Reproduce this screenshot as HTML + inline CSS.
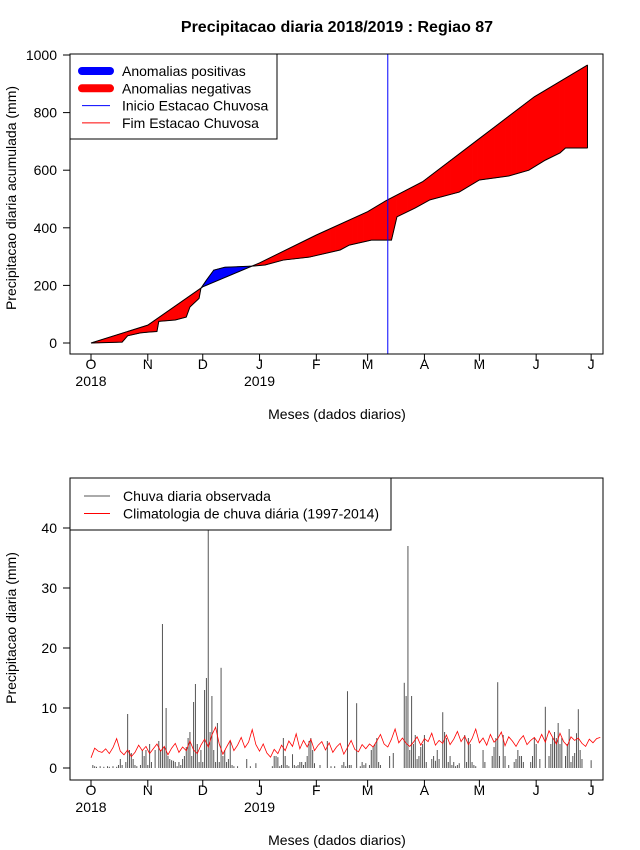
<!DOCTYPE html>
<html><head><meta charset="utf-8"><style>
body{margin:0;background:#fff}
svg{display:block;font-family:"Liberation Sans",sans-serif}
</style></head><body>
<svg id="c" width="640" height="850" viewBox="0 0 640 850" xmlns="http://www.w3.org/2000/svg">
<rect width="640" height="850" fill="#fff"/>
<text x="337" y="32" text-anchor="middle" font-size="16" font-weight="bold">Precipitacao diaria 2018/2019 : Regiao 87</text>
<g id="top"></g>
<g id="bot"></g>
</svg>
<script>
// ---- Top chart data (cumulative, mm) ----
const climDays = [0,31,61,92,123,151,161,181,211,242,271];
const climCum  = [0,62,195,278,375,456,494,560,705,855,965];
const obsDays  = [0,17,20,27,32,36,37,46,52,54,59,60,63,67,73,88,95,105,119,136,141,153,164,167,177,185,201,212,228,239,248,256,259,271];
const obsCum   = [0,3,25,35,38,40,75,80,90,125,155,190,218,253,263,267,271,288,298,323,340,357,357,438,469,497,524,566,580,600,635,660,677,677];
const topYTicks = [0,200,400,600,800,1000];
const monthLabels = ["O","N","D","J","F","M","A","M","J","J"];
const monthDays = [0,31,61,92,123,151,182,212,243,273];
const seasonStartDay = 162;
// ---- Bottom chart data (daily, mm) ----
const rainDaily = [
0,0.5,0.3,0.2,0,0.3,0,0.2,0,0.3,0.2,0,0.3,0,0.2,0.5,1.5,0.5,0,1,9,3,2.5,1.5,0.5,0.3,0,0.5,3,2,3,
0.5,4,1,0,3,0,4.5,3,24,3.5,10,2,1.5,1.3,1.2,1,0.3,1,0.5,1.5,2,3.5,5,6,2,11,14,4,1,3,
1,13,15,40,6,12,3,1,7.5,1,16.7,2,3,1,1.5,4.5,0.5,0.3,0,0.3,0,0,0,0,1.5,0,0.3,0,0,0.8,0,
0,0,0,0,0,0,0,0.3,2,2,1.8,0.3,0.5,5,2,0.5,0.3,0,2.3,0.5,0.3,0.5,1,1,0.5,1,2,4.5,5,3,0.8,
0,0,0.5,0,0,0,4.5,0,0.3,0,0.3,0,0,0,0.5,1,0.3,12.8,0.5,0.5,0,0,10.8,0,0.3,1,0.5,0.8,
0,0.5,3,3.5,4,5,1,0.5,0,0,0,0,2,0,2.5,0,0,0,0,0,14.2,12,37,3,12,4,5.5,1.5,2,3.5,4,
5.5,1,0,0,1.5,2,1.2,3,1.5,0,9.3,6,5,1,2,0.5,1,0.3,0.5,0.8,0,0,5.5,1,5,4,1,0.5,0.3,0,
0,0,3,1,0,0,0,2,3.5,5,14.3,2,0,5.5,2,0,0.5,0,0,1,1.5,3,2,2,1,0,0,0,1,2,5,
4,0,1.5,0,0,10.2,0,2,4,5,6,5,7.5,4,5,0,2,4,6.5,1,2,2.5,5.8,9.8,3,1.5,0,0,0,0,
1.3];
const climDaily2 = [
1.7,3.3,2.8,2.6,3.2,2.4,3.4,4.9,2.8,2.2,3.0,1.9,2.6,3.8,2.9,3.6,
2.4,3.2,4.0,2.8,3.6,2.2,3.3,4.1,2.6,3.5,2.9,4.5,3.0,2.4,3.8,
4.8,3.5,5.5,6.8,4.0,2.3,3.5,4.6,2.9,3.8,5.1,3.4,4.3,6.4,3.9,
2.8,4.0,2.5,1.8,3.1,2.4,3.8,2.9,4.5,3.6,5.7,3.2,4.6,3.5,4.8,2.9,
3.8,4.4,3.0,4.2,2.6,3.5,4.1,2.3,3.4,4.6,3.1,2.7,3.9,3.2,
4.0,3.5,4.5,5.6,4.0,3.5,4.8,6.5,4.2,5.0,4.1,3.6,4.3,5.2,3.8,4.9,
4.4,5.8,3.8,4.6,4.1,5.5,3.9,4.8,6.1,4.4,5.3,3.9,4.9,6.5,4.2,
5.0,3.8,5.6,4.3,4.9,6.0,3.7,5.2,4.5,3.6,4.7,5.4,3.9,4.6,5.1,4.2,
5.6,4.3,6.2,5.1,4.0,5.8,4.4,3.7,5.2,4.6,5.0,4.1,3.6,4.8,4.2,4.9,5.1];
const botYTicks = [0,10,20,30,40];

const NS="http://www.w3.org/2000/svg";
function mk(p,tag,at){const e=document.createElementNS(NS,tag);for(const k in at)e.setAttribute(k,at[k]);p.appendChild(e);return e;}
const xd = d => 91 + d*1.832;
const yTop = v => 343 - v*0.288;
const yBot = v => 768 - v*6;
function interp(ds,vs,d){for(let i=1;i<ds.length;i++){if(d<=ds[i]){const t=(d-ds[i-1])/(ds[i]-ds[i-1]);return vs[i-1]+t*(vs[i]-vs[i-1]);}}return vs[vs.length-1];}

function axes(g,top,bot,yf,ticks,label,lx,ly){
  const box=mk(g,'rect',{x:70,y:top,width:533,height:bot-top,fill:'none',stroke:'#000','stroke-width':1});
  
  
  ticks.forEach(t=>{
    const y=yf(t);
    const tl=mk(g,'line',{x1:63,x2:70,y1:y,y2:y,stroke:'#000'});
    
    
    const tx=mk(g,'text',{x:57,y:y+5,'text-anchor':'end','font-size':14});
    tx.textContent=t;
    
    
  });
  monthDays.forEach((d,i)=>{
    const x=xd(d);
    const tl=mk(g,'line',{x1:x,x2:x,y1:bot,y2:bot+7,stroke:'#000'});
    
    
    const tx=mk(g,'text',{x:x,y:bot+15,'text-anchor':'middle','font-size':14});
    tx.textContent=monthLabels[i];
    
    
  });
  [[0,'2018'],[92,'2019']].forEach(([d,s])=>{
    const tx=mk(g,'text',{x:xd(d),y:bot+32,'text-anchor':'middle','font-size':14});
    tx.textContent=s;
    
    
  });
  const xl=mk(g,'text',{x:337,y:bot+65,'text-anchor':'middle','font-size':14});
  xl.textContent='Meses (dados diarios)';
  
  
  const yl=mk(g,'text',{x:lx,y:ly,'text-anchor':'middle','font-size':14,transform:`rotate(-90 ${lx} ${ly})`});
  yl.textContent=label;
  
  
}

// ---- Top chart ----
const T=document.getElementById('top');
const lastDay=271;
for(let d=0; d<lastDay; d+=0.5){
  const c0=interp(climDays,climCum,d),c1=interp(climDays,climCum,d+0.5);
  const o0=interp(obsDays,obsCum,d),o1=interp(obsDays,obsCum,d+0.5);
  const col=(o0+o1)>(c0+c1)?'#0000ff':'#ff0000';
  const p=mk(T,'polygon',{points:`${xd(d)},${yTop(c0)} ${xd(d+0.5)},${yTop(c1)} ${xd(d+0.5)},${yTop(o1)} ${xd(d)},${yTop(o0)}`,fill:col,stroke:col,'stroke-width':0.6});
  
  
}
const cl=mk(T,'polyline',{points:climDays.map((d,i)=>xd(d)+','+yTop(climCum[i])).join(' '),fill:'none',stroke:'#000','stroke-width':1});


const ol=mk(T,'polyline',{points:obsDays.map((d,i)=>xd(d)+','+yTop(obsCum[i])).join(' '),fill:'none',stroke:'#000','stroke-width':1});


const ev=mk(T,'line',{x1:xd(lastDay),x2:xd(lastDay),y1:yTop(interp(climDays,climCum,lastDay)),y2:yTop(interp(obsDays,obsCum,lastDay)),stroke:'#000'});


const vl=mk(T,'line',{x1:xd(seasonStartDay),x2:xd(seasonStartDay),y1:54,y2:354,stroke:'#0000ff','stroke-width':1});


axes(T,54,354,yTop,topYTicks,'Precipitacao diaria acumulada (mm)',16,198);
// legend top
const lg=mk(T,'g',{});


mk(lg,'rect',{x:70,y:54,width:207,height:85,fill:'#fff',stroke:'#000'});
[['Anomalias positivas','#0000ff',8],['Anomalias negativas','#ff0000',8],['Inicio Estacao Chuvosa','#0000ff',1],['Fim Estacao Chuvosa','#ff0000',1]].forEach((e,i)=>{
  const y=71+i*17.3;
  const g=mk(lg,'g',{});
  
  
  mk(g,'line',{x1:82,x2:110,y1:y,y2:y,stroke:e[1],'stroke-width':e[2],'stroke-linecap':e[2]>1?'round':'butt'});
  const t=mk(g,'text',{x:122,y:y+5,'font-size':14});
  t.textContent=e[0];
});

// ---- Bottom chart ----
const B=document.getElementById('bot');
rainDaily.forEach((v,d)=>{
  if(v<=0) return;
  const b=mk(B,'line',{x1:xd(d),x2:xd(d),y1:yBot(0),y2:yBot(v),stroke:'#555','stroke-width':1});
  
  
});
const cp=mk(B,'polyline',{points:climDaily2.map((v,i)=>xd(i*2)+','+yBot(v)).join(' '),fill:'none',stroke:'#ff0000','stroke-width':0.8});


axes(B,478,780,yBot,botYTicks,'Precipitacao diaria (mm)',16,628);
const lb=mk(B,'g',{});


mk(lb,'rect',{x:70,y:478,width:321,height:52,fill:'#fff',stroke:'#000'});
[['Chuva diaria observada','#555'],['Climatologia de chuva diária (1997-2014)','#ff0000']].forEach((e,i)=>{
  const y=496+i*17.5;
  const g=mk(lb,'g',{});
  
  
  mk(g,'line',{x1:84,x2:110,y1:y,y2:y,stroke:e[1],'stroke-width':1});
  const t=mk(g,'text',{x:123,y:y+5,'font-size':14});
  t.textContent=e[0];
});
</script>
</body></html>
